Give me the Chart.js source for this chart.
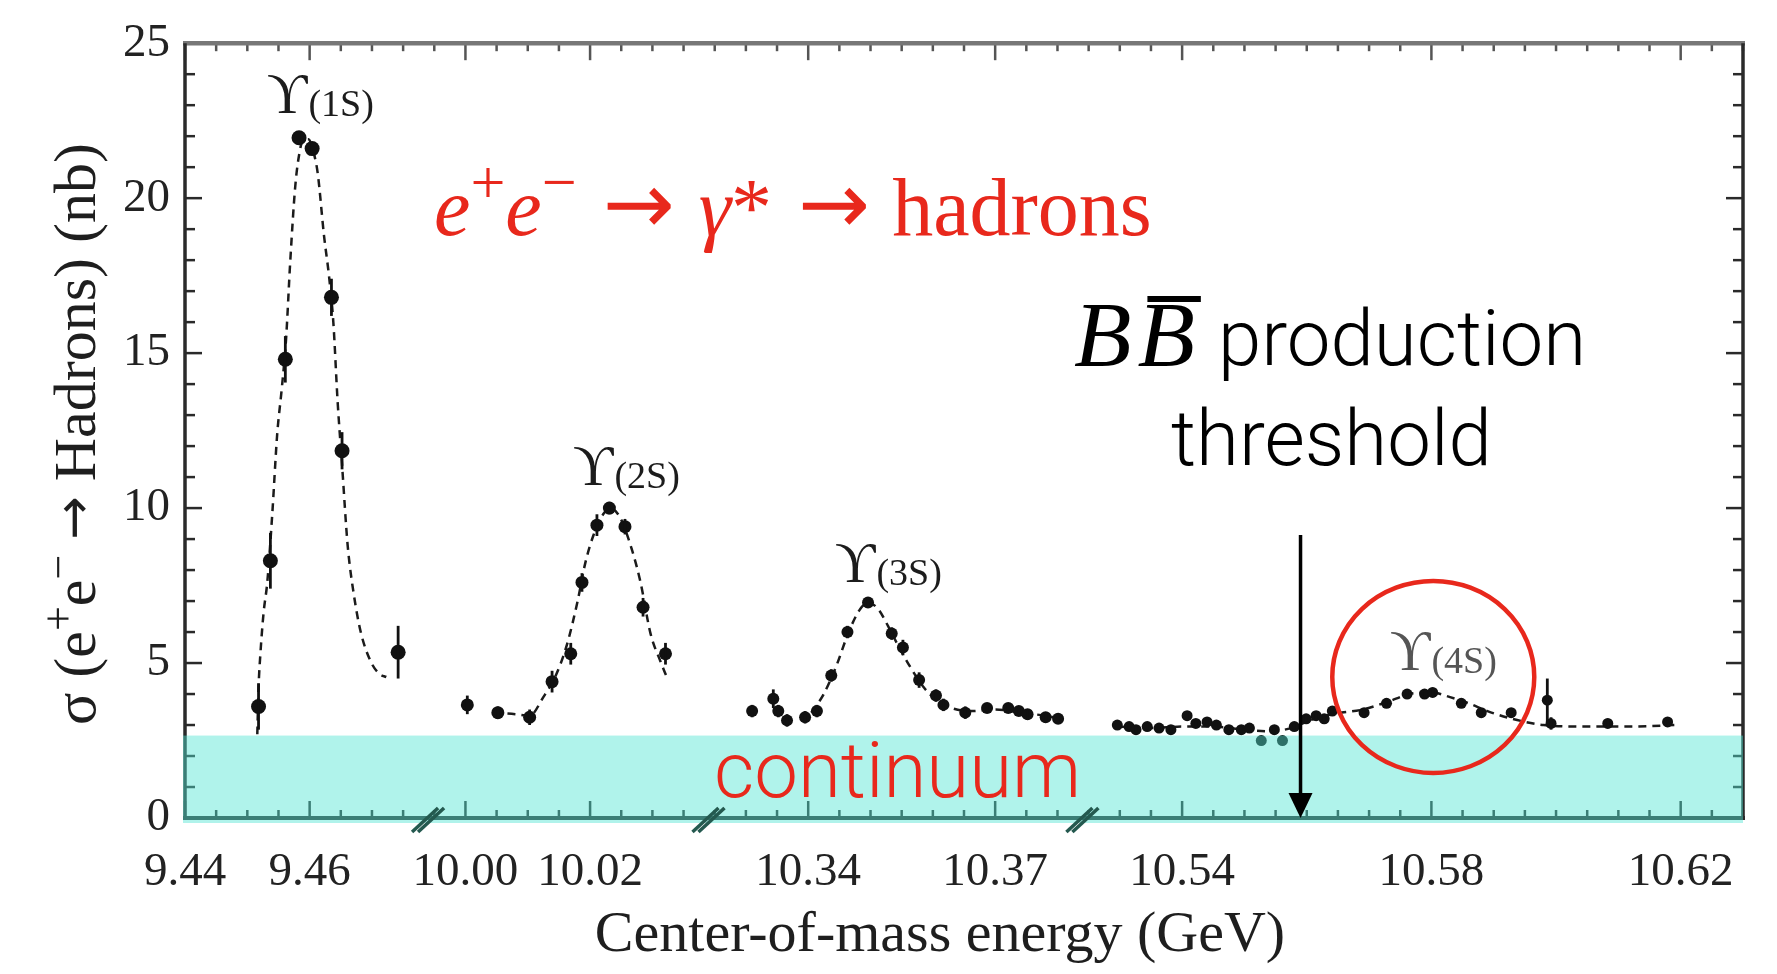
<!DOCTYPE html>
<html>
<head>
<meta charset="utf-8">
<script src="https://cdn.jsdelivr.net/npm/chart.js@4.4.1/dist/chart.umd.min.js"></script>
<style>
  html, body { margin: 0; padding: 0; background: #fff; }
  #wrap { width: 1777px; height: 974px; position: relative; }
</style>
</head>
<body>
<div id="wrap"><canvas id="chart"></canvas></div>
<script>
// Broken energy axis: each pair is a kept window in GeV
const segments = [[9.44, 9.479], [9.994, 10.039], [10.324, 10.384], [10.524, 10.63]];
const xTickLabels = [9.44, 9.46, 10.00, 10.02, 10.34, 10.37, 10.54, 10.58, 10.62];
const yTickLabels = [0, 5, 10, 15, 20, 25];

// Upsilon(1S) scan
const e1S = [9.4518, 9.4537, 9.4561, 9.4583, 9.4604, 9.4635, 9.4652, 9.4742];
const s1S = [3.6, 8.3, 14.8, 21.95, 21.6, 16.8, 11.85, 5.35];
const err1S = [0.75, 0.9, 0.75, 0.2, 0.2, 0.6, 0.6, 0.85];
const fitE1S = [9.4516, 9.4518, 9.4521, 9.4526, 9.4532, 9.4540, 9.4548, 9.4555, 9.4562, 9.4569, 9.4577, 9.4584, 9.4590, 9.4598, 9.4606, 9.4613, 9.4623, 9.4631, 9.4638, 9.4645, 9.4652, 9.4661, 9.4671, 9.4682, 9.4698, 9.4712, 9.4723];
const fitS1S = [2.7, 4.2, 5.3, 6.6, 7.6, 9.8, 12.4, 13.8, 15.4, 18.0, 20.4, 21.5, 21.9, 21.9, 21.5, 20.8, 18.8, 17.5, 16.0, 13.4, 11.4, 8.8, 7.2, 6.0, 5.05, 4.65, 4.55];

// Upsilon(2S) scan
const e2S = [10.0003, 10.0052, 10.0103, 10.0139, 10.0169, 10.0187, 10.0211, 10.0231, 10.0256, 10.0285, 10.0321];
const s2S = [3.65, 3.4, 3.25, 4.4, 5.3, 7.6, 9.45, 10.0, 9.4, 6.8, 5.3];
const err2S = [0.3, 0.2, 0.25, 0.35, 0.35, 0.3, 0.35, 0.2, 0.25, 0.3, 0.35];
const fitE2S = [10.0045, 10.0080, 10.0103, 10.0125, 10.0145, 10.0163, 10.0180, 10.0192, 10.0205, 10.0221, 10.0232, 10.0248, 10.0268, 10.0281, 10.0297, 10.0313, 10.0324];
const fitS2S = [3.4, 3.35, 3.3, 3.9, 4.6, 5.6, 7.0, 8.2, 9.1, 9.8, 10.0, 9.7, 8.6, 7.6, 5.95, 5.05, 4.5];

// Upsilon(3S) scan
const e3S = [10.3310, 10.3344, 10.3352, 10.3366, 10.3395, 10.3414, 10.3437, 10.3463, 10.3496, 10.3534, 10.3552, 10.3578, 10.3605, 10.3617, 10.3652, 10.3687, 10.3721, 10.3738, 10.3752, 10.3781, 10.3801];
const s3S = [3.45, 3.85, 3.45, 3.15, 3.25, 3.45, 4.6, 6.0, 6.95, 5.95, 5.5, 4.45, 3.95, 3.65, 3.4, 3.55, 3.55, 3.45, 3.35, 3.25, 3.2];
const err3S = [0.2, 0.3, 0.2, 0.2, 0.2, 0.2, 0.2, 0.2, 0.15, 0.2, 0.25, 0.25, 0.2, 0.2, 0.2, 0.15, 0.15, 0.15, 0.15, 0.15, 0.15];
const fitE3S = [10.3405, 10.3425, 10.3445, 10.3465, 10.3482, 10.3496, 10.3512, 10.3528, 10.3546, 10.3566, 10.3586, 10.3606, 10.3630, 10.3660, 10.3700, 10.3740, 10.3780, 10.3805];
const fitS3S = [3.4, 4.0, 4.9, 6.0, 6.7, 6.95, 6.75, 6.2, 5.5, 4.8, 4.2, 3.8, 3.55, 3.45, 3.5, 3.4, 3.3, 3.2];

// Upsilon(4S) scan
const e4S = [10.5296, 10.5315, 10.5326, 10.5344, 10.5363, 10.5382, 10.5408, 10.5422, 10.5440, 10.5455, 10.5475, 10.5495, 10.5508, 10.5527, 10.5548, 10.5561, 10.5580, 10.5599, 10.5615, 10.5628, 10.5641, 10.5692, 10.5728, 10.5761, 10.5789, 10.5802, 10.5848, 10.5880, 10.5928, 10.5986, 10.5992, 10.6083, 10.6179];
const s4S = [3.0, 2.95, 2.85, 2.95, 2.9, 2.85, 3.3, 3.05, 3.1, 3.0, 2.85, 2.85, 2.9, 2.5, 2.85, 2.5, 2.95, 3.2, 3.3, 3.2, 3.45, 3.4, 3.7, 4.0, 4.0, 4.05, 3.7, 3.4, 3.4, 3.8, 3.05, 3.05, 3.1];
const err4S = [0.1, 0.1, 0.1, 0.1, 0.1, 0.1, 0.15, 0.1, 0.1, 0.1, 0.1, 0.1, 0.1, 0.15, 0.1, 0.15, 0.1, 0.1, 0.1, 0.1, 0.15, 0.15, 0.15, 0.15, 0.15, 0.15, 0.15, 0.15, 0.15, 0.7, 0.2, 0.15, 0.15];
const fitE4S = [10.5296, 10.5350, 10.5400, 10.5450, 10.5500, 10.5540, 10.5575, 10.5605, 10.5640, 10.5690, 10.5730, 10.5765, 10.5800, 10.5830, 10.5860, 10.5890, 10.5930, 10.5980, 10.6050, 10.6120, 10.6190];
const fitS4S = [2.95, 2.9, 2.95, 2.95, 2.85, 2.8, 2.9, 3.15, 3.35, 3.5, 3.75, 4.0, 4.05, 3.9, 3.7, 3.45, 3.2, 3.0, 2.95, 2.95, 3.0];

const continuumLevel = 2.66;   // nb
const thresholdE = 10.559;     // 2 m_B, GeV
const thresholdTop = 9.13;     // arrow starts here (nb)
const ring4S = { e: 10.5803, s: 4.55 };

const SERIF = "'Liberation Serif', 'DejaVu Serif', serif";
const SANS = "Roboto, 'Liberation Sans', sans-serif";
const ARROW = "'DejaVu Sans', sans-serif";
const RED = '#e8281c';

// position of an energy on the compressed axis
function axisPos(E) {
  let offset = 0;
  for (const [lo, hi] of segments) {
    if (E <= hi + 1e-9) return offset + Math.max(E - lo, 0);
    offset += hi - lo;
  }
  return offset;
}
const axisEnd = axisPos(segments[segments.length - 1][1]);

function toPoints(es, ss) {
  return es.map((e, i) => ({ x: axisPos(e), y: ss[i] }));
}

function xTickEnergies() {
  const out = [];
  for (const [lo, hi] of segments) {
    for (let k = Math.ceil(lo / 0.005 - 1e-6); k * 0.005 <= hi + 1e-9; k++) out.push(k * 0.005);
  }
  return out;
}

function fitSet(es, ss) {
  return {
    type: 'line',
    data: toPoints(es, ss),
    borderColor: '#1b1b1b',
    borderWidth: 2.5,
    borderDash: [8, 6],
    pointRadius: 0,
    cubicInterpolationMode: 'monotone',
    fill: false,
    order: 2,
  };
}

function pointSet(es, ss, errs, r) {
  return {
    type: 'scatter',
    data: toPoints(es, ss),
    yErr: errs,
    backgroundColor: '#111',
    borderWidth: 0,
    pointRadius: r,
    order: 1,
  };
}

// draws a run of text pieces left to right; each piece may carry its own font and raise
function drawRun(ctx, x, y, parts) {
  for (const p of parts) {
    ctx.font = p.font;
    ctx.fillText(p.t, x, y - (p.dy || 0));
    x += ctx.measureText(p.t).width + (p.gap || 0);
  }
  return x;
}

function upsilon(ctx, x, y, state, color) {
  ctx.fillStyle = color;
  ctx.textAlign = 'left';
  ctx.textBaseline = 'alphabetic';
  drawRun(ctx, x, y, [
    { t: '\u03D2', font: `56px ${SERIF}`, gap: 1 },
    { t: `(${state})`, font: `38px ${SERIF}`, dy: -3 },
  ]);
}

const frame = {
  id: 'frame',
  beforeDatasetsDraw(chart) {
    const { ctx, chartArea: a, scales: { x, y } } = chart;
    ctx.save();
    ctx.lineCap = 'butt';

    // energy ticks, bottom (up) and top (down)
    for (const e of xTickEnergies()) {
      const px = x.getPixelForValue(axisPos(e));
      const major = xTickLabels.some(t => Math.abs(t - e) < 1e-6);
      const len = major ? 17 : 8;
      ctx.lineWidth = 2.5;
      ctx.strokeStyle = '#2a2a2a';
      ctx.beginPath(); ctx.moveTo(px, a.bottom); ctx.lineTo(px, a.bottom - len); ctx.stroke();
      ctx.strokeStyle = '#555';
      ctx.beginPath(); ctx.moveTo(px, a.top); ctx.lineTo(px, a.top + len); ctx.stroke();
    }

    // cross-section ticks, left and right
    for (let v = 1; v < 25; v++) {
      const py = y.getPixelForValue(v);
      const len = v % 5 === 0 ? 17 : 10;
      ctx.lineWidth = 2.5;
      ctx.strokeStyle = '#2a2a2a';
      ctx.beginPath(); ctx.moveTo(a.left, py); ctx.lineTo(a.left + len, py); ctx.stroke();
      ctx.beginPath(); ctx.moveTo(a.right, py); ctx.lineTo(a.right - len, py); ctx.stroke();
    }

    // frame
    ctx.lineWidth = 4.5;
    ctx.strokeStyle = '#777';
    ctx.beginPath(); ctx.moveTo(a.left - 2, a.top); ctx.lineTo(a.right + 2, a.top); ctx.stroke();
    ctx.lineWidth = 3.5;
    ctx.strokeStyle = '#2a2a2a';
    ctx.beginPath(); ctx.moveTo(a.left, a.top); ctx.lineTo(a.left, a.bottom); ctx.stroke();
    ctx.beginPath(); ctx.moveTo(a.right, a.top); ctx.lineTo(a.right, a.bottom + 2); ctx.stroke();
    ctx.lineWidth = 4;
    ctx.beginPath(); ctx.moveTo(a.left - 2, a.bottom); ctx.lineTo(a.right + 2, a.bottom); ctx.stroke();
    ctx.restore();
  },

  afterDatasetsDraw(chart) {
    const { ctx, chartArea: a, scales: { x, y } } = chart;
    ctx.save();

    // error bars
    ctx.strokeStyle = '#111';
    ctx.lineWidth = 2.8;
    chart.data.datasets.forEach((ds, di) => {
      if (!ds.yErr) return;
      chart.getDatasetMeta(di).data.forEach((pt, i) => {
        const v = ds.data[i].y, err = ds.yErr[i];
        ctx.beginPath();
        ctx.moveTo(pt.x, y.getPixelForValue(v - err));
        ctx.lineTo(pt.x, y.getPixelForValue(v + err));
        ctx.stroke();
      });
    });

    // continuum band, laid over the bottom of the plot
    const yTop = y.getPixelForValue(continuumLevel);
    ctx.fillStyle = 'rgba(80, 229, 211, 0.45)';
    ctx.fillRect(a.left - 2, yTop, a.right - a.left + 2, a.bottom + 5 - yTop);

    // axis break marks
    ctx.strokeStyle = '#24594f';
    ctx.lineWidth = 3.5;
    for (let i = 0; i < segments.length - 1; i++) {
      const px = x.getPixelForValue(axisPos(segments[i][1]));
      for (const dx of [-3, 3]) {
        ctx.beginPath();
        ctx.moveTo(px + dx - 13, a.bottom + 14);
        ctx.lineTo(px + dx + 13, a.bottom - 10);
        ctx.stroke();
      }
    }
    ctx.restore();
  },

  afterDraw(chart) {
    const { ctx, chartArea: a, scales: { x, y } } = chart;
    ctx.save();

    // resonance labels
    upsilon(ctx, 267, 113, '1S', '#1c1c1c');
    upsilon(ctx, 573, 485, '2S', '#1c1c1c');
    upsilon(ctx, 835, 582, '3S', '#1c1c1c');
    upsilon(ctx, 1390, 670, '4S', '#555');

    // axis titles
    ctx.fillStyle = '#1e1e1e';
    ctx.textBaseline = 'alphabetic';
    ctx.font = `58px ${SERIF}`;
    ctx.textAlign = 'center';
    ctx.fillText('Center-of-mass energy (GeV)', 940, 951);

    ctx.save();
    ctx.translate(95, 434);
    ctx.rotate(-Math.PI / 2);
    ctx.textAlign = 'left';
    const yTitle = [
      { t: '\u03C3 (e', font: `60px ${SERIF}` },
      { t: '+', font: `44px ${SERIF}`, dy: 22 },
      { t: 'e', font: `60px ${SERIF}` },
      { t: '\u2212', font: `44px ${SERIF}`, dy: 22 },
      { t: ' ', font: `60px ${SERIF}` },
      { t: '\u2192', font: `52px ${ARROW}`, dy: 4 },
      { t: ' Hadrons) (nb)', font: `60px ${SERIF}` },
    ];
    let w = 0;
    for (const p of yTitle) { ctx.font = p.font; w += ctx.measureText(p.t).width; }
    drawRun(ctx, -w / 2, 0, yTitle);
    ctx.restore();

    // reaction
    ctx.fillStyle = RED;
    ctx.textAlign = 'left';
    drawRun(ctx, 434, 235, [
      { t: 'e', font: `italic 82px ${SERIF}` },
      { t: '+', font: `62px ${SERIF}`, dy: 32 },
      { t: 'e', font: `italic 82px ${SERIF}` },
      { t: '\u2212', font: `62px ${SERIF}`, dy: 32, gap: 26 },
      { t: '\u2192', font: `86px ${ARROW}`, gap: 24, dy: 2 },
      { t: '\u03B3', font: `italic 82px ${SERIF}` },
      { t: '*', font: `82px ${SERIF}`, gap: 26 },
      { t: '\u2192', font: `86px ${ARROW}`, gap: 22, dy: 2 },
      { t: 'hadrons', font: `82px ${SERIF}` },
    ]);

    // B Bbar threshold
    ctx.fillStyle = '#000';
    ctx.font = `italic 94px ${SERIF}`;
    ctx.fillText('B', 1074, 366);
    const b1 = ctx.measureText('B').width;
    ctx.fillText('B', 1074 + b1 + 6, 366);
    ctx.fillRect(1074 + b1 + 16, 296, b1 - 4, 6);
    ctx.font = `300 78px ${SANS}`;
    ctx.fillText('production', 1218, 365);
    ctx.fillText('threshold', 1171, 465);

    const ax = x.getPixelForValue(axisPos(thresholdE));
    ctx.strokeStyle = '#000';
    ctx.lineWidth = 3.5;
    ctx.beginPath();
    ctx.moveTo(ax, y.getPixelForValue(thresholdTop));
    ctx.lineTo(ax, a.bottom - 20);
    ctx.stroke();
    ctx.beginPath();
    ctx.moveTo(ax, a.bottom);
    ctx.lineTo(ax - 12, a.bottom - 25);
    ctx.lineTo(ax + 12, a.bottom - 25);
    ctx.closePath();
    ctx.fill();

    // ring round the 4S bump
    ctx.strokeStyle = RED;
    ctx.lineWidth = 4.5;
    ctx.beginPath();
    ctx.ellipse(x.getPixelForValue(axisPos(ring4S.e)), y.getPixelForValue(ring4S.s), 101, 96, 0, 0, Math.PI * 2);
    ctx.stroke();

    // continuum label
    ctx.fillStyle = RED;
    ctx.font = `300 78px ${SANS}`;
    ctx.fillText('continuum', 714, 797);
    ctx.restore();
  },
};

new Chart(document.getElementById('chart'), {
  data: {
    datasets: [
      fitSet(fitE1S, fitS1S),
      fitSet(fitE2S, fitS2S),
      fitSet(fitE3S, fitS3S),
      fitSet(fitE4S, fitS4S),
      pointSet(e1S, s1S, err1S, 7.5),
      pointSet(e2S, s2S, err2S, 6.5),
      pointSet(e3S, s3S, err3S, 6),
      pointSet(e4S, s4S, err4S, 5.5),
    ],
  },
  options: {
    responsive: true,
    maintainAspectRatio: false,
    animation: false,
    events: [],
    layout: { padding: { left: 0, right: 34, top: 38, bottom: 0 } },
    plugins: { legend: { display: false }, tooltip: { enabled: false } },
    scales: {
      x: {
        type: 'linear',
        min: 0,
        max: axisEnd,
        grid: { display: false, drawTicks: false },
        border: { display: false },
        afterBuildTicks: (scale) => { scale.ticks = xTickLabels.map(e => ({ value: axisPos(e) })); },
        afterFit: (scale) => { scale.height = 156; },
        ticks: {
          autoSkip: false,
          maxRotation: 0,
          padding: 26,
          color: '#222',
          font: { family: SERIF, size: 47 },
          callback: (v, i) => xTickLabels[i].toFixed(2),
        },
      },
      y: {
        min: 0,
        max: 25,
        grid: { display: false, drawTicks: false },
        border: { display: false },
        afterBuildTicks: (scale) => { scale.ticks = yTickLabels.map(v => ({ value: v })); },
        afterFit: (scale) => { scale.width = 185; },
        ticks: {
          padding: 15,
          color: '#222',
          font: { family: SERIF, size: 47 },
          callback: (v) => String(v),
        },
      },
    },
  },
  plugins: [frame],
});
</script>
</body>
</html>
